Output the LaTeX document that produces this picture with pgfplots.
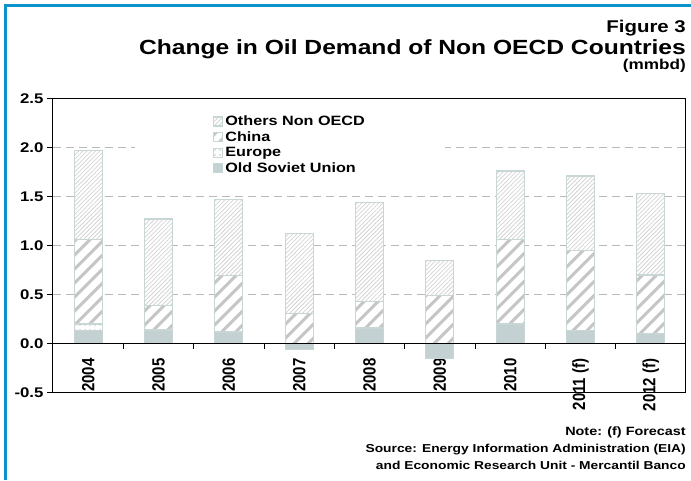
\documentclass[border=0pt]{standalone}
\usepackage{fontspec}
\setmainfont{Liberation Sans}
\usepackage{graphicx}
\usepackage{pgfplots}
\usepackage{pgfplotstable}
\pgfplotsset{compat=1.18}
\usetikzlibrary{patterns.meta}
\definecolor{frameblue}{HTML}{0A93C8}
\definecolor{osu}{HTML}{C3D1D2}
\definecolor{barline}{HTML}{C9D6D6}
\definecolor{hatch}{HTML}{C6C6C6}
\definecolor{hatchlight}{HTML}{D4D4D4}
\newcommand\hs[1]{\scalebox{1.2}[1]{#1}}
\newcommand\vs[1]{\scalebox{1}[1.18]{#1}}
\pgfplotsset{swatch/.style={legend image code/.code={\draw[##1] (0pt,-4.5pt) rectangle (9pt,4.5pt);}}}

\pgfplotstableread{
x osu eur china others
0 0.13 0.07 0.86 0.91
1 0.13 0.01 0.25 0.88
2 0.11 0.01 0.57 0.78
3 0.00 0.00 0.31 0.81
4 0.15 0.01 0.27 1.01
5 0.00 0.00 0.49 0.36
6 0.20 0.00 0.86 0.70
7 0.13 0.00 0.82 0.76
8 0.10 0.00 0.60 0.83
}\datatable

\pgfplotstableread{
x osu
3 -0.06
5 -0.15
}\negtable

\begin{document}
\begin{tikzpicture}
\useasboundingbox (0pt,0pt) rectangle (691pt,480pt);
\fill[white] (0pt,0pt) rectangle (691pt,480pt);
\draw[frameblue, line width=3pt] (5.5pt,0pt) -- (5.5pt,474.5pt) -- (691pt,474.5pt);

\begin{axis}[at={(53pt,87.5pt)}, anchor=south west, width=633pt, height=294pt, scale only axis,
  xmin=-0.5, xmax=8.5, ymin=-0.5, ymax=2.5,
  ybar stacked, bar width=28pt,
  xtick={0,...,8},
  xticklabels={{\vs{2004}},{\vs{2005}},{\vs{2006}},{\vs{2007}},{\vs{2008}},{\vs{2009}},{\vs{2010}},{\vs{2011 (f)}},{\vs{2012 (f)}}},
  xticklabel style={rotate=90, anchor=east, font=\fontsize{15}{15}\selectfont\bfseries},
  xticklabel shift=-43.5pt,
  xtick style={draw=none},
  ytick={-0.5,0,0.5,1,1.5,2,2.5},
  yticklabels={{\hs{-0.5}},{\hs{0.0}},{\hs{0.5}},{\hs{1.0}},{\hs{1.5}},{\hs{2.0}},{\hs{2.5}}},
  yticklabel style={font=\fontsize{14}{14}\selectfont\bfseries},
  tick pos=left, tick align=outside, major tick length=6pt,
  ytick style={black, line width=0.8pt},
  ymajorgrids, grid style={gray!55, line width=0.8pt, dash pattern=on 8pt off 5pt},
  axis line style={line width=1pt},
  reverse legend, legend cell align=left,
  legend style={at={(0.1295,0.952)}, anchor=north west, draw=none, fill=white,
    font=\fontsize{13.5}{13.5}\selectfont\bfseries, inner xsep=78pt, inner ysep=2pt,
    nodes={inner ysep=1pt}, row sep=2.5pt},
]
\addplot[swatch, fill=osu, draw=barline, line width=1.2pt] table[x=x,y=osu]{\datatable};
\addlegendentry{\hs{Old Soviet Union}}
\addplot[swatch, draw=barline, line width=1.2pt, preaction={fill=white},
  pattern={Dots[distance=5pt, radius=0.9pt]}, pattern color=hatch] table[x=x,y=eur]{\datatable};
\addlegendentry{\hs{Europe}}
\addplot[swatch, draw=barline, line width=1.2pt, preaction={fill=white},
  pattern={Lines[angle=45, distance=10.5pt, line width=3.5pt]}, pattern color=hatch] table[x=x,y=china]{\datatable};
\addlegendentry{\hs{China}}
\addplot[swatch, draw=barline, line width=1.2pt, preaction={fill=white},
  pattern={Lines[angle=45, distance=3pt, line width=0.8pt]}, pattern color=hatchlight] table[x=x,y=others]{\datatable};
\addlegendentry{\hs{Others Non OECD}}
\end{axis}

\begin{axis}[at={(53pt,87.5pt)}, anchor=south west, width=633pt, height=294pt, scale only axis,
  xmin=-0.5, xmax=8.5, ymin=-0.5, ymax=2.5,
  axis x line=middle, axis y line=none, axis line style={-, line width=1pt, black},
  xtick=\empty, ytick=\empty,
  ybar, bar width=28pt, bar shift=0pt, axis on top,
]
\addplot[fill=osu, draw=barline, line width=1.2pt] table[x=x,y=osu]{\negtable};
\pgfplotsinvokeforeach{0.5,1.5,2.5,3.5,4.5,5.5,6.5,7.5}{
  \draw[black, line width=0.8pt] (axis cs:#1,0) -- ++(0pt,-5pt);
}
\end{axis}

\node[anchor=base east, inner sep=0pt, font=\fontsize{17}{17}\selectfont\bfseries] at (686pt,447.5pt) {\hs{Figure 3}};
\node[anchor=base east, inner sep=0pt, font=\fontsize{20.5}{20.5}\selectfont\bfseries] at (686pt,425pt) {\hs{Change in Oil Demand of Non OECD Countries}};
\node[anchor=base east, inner sep=0pt, font=\fontsize{14.3}{14.3}\selectfont\bfseries] at (686pt,410pt) {\hs{(mmbd)}};
\node[anchor=base east, inner sep=0pt, font=\fontsize{12}{12}\selectfont\bfseries] at (686pt,45pt) {\hs{Note: (f) Forecast}};
\node[anchor=base east, inner sep=0pt, font=\fontsize{11.5}{11.5}\selectfont\bfseries] at (686pt,27.3pt) {\hs{Source: Energy Information Administration (EIA)}};
\node[anchor=base east, inner sep=0pt, font=\fontsize{11.5}{11.5}\selectfont\bfseries] at (686pt,11pt) {\hs{and Economic Research Unit - Mercantil Banco}};
\end{tikzpicture}
\end{document}
